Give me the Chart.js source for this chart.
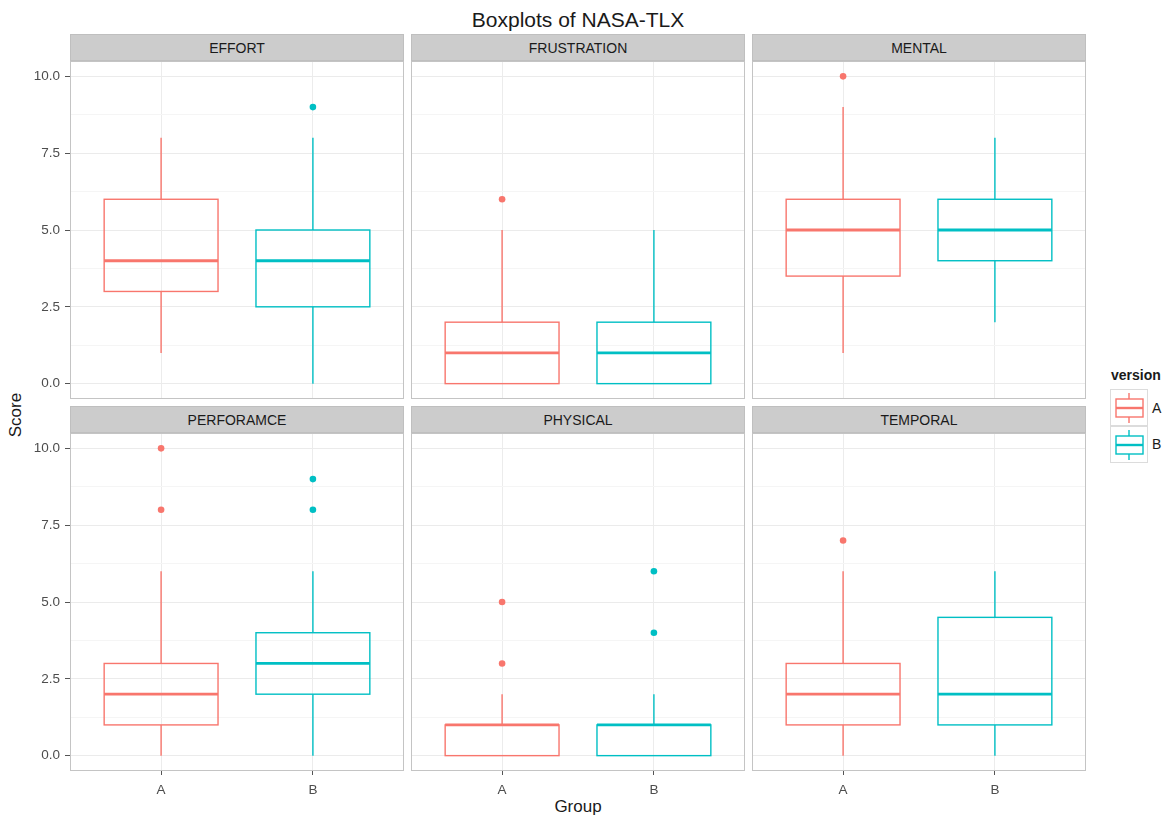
<!DOCTYPE html>
<html>
<head>
<meta charset="utf-8">
<script src="https://cdn.jsdelivr.net/npm/chart.js@4"></script>
<style>
  body { margin: 0; background: #fff; font-family: "Liberation Sans", Arial, sans-serif; }
  #wrap { position: relative; width: 1170px; height: 819px; overflow: hidden; }
  canvas { position: absolute; }
  .strip { position: absolute; background: #cccccc; color: #1a1a1a; font-size: 14px;
           text-align: center; line-height: 27px; height: 27px; border: 1px solid #bfbfbf; box-sizing: border-box; }
  .txt { position: absolute; color: #1a1a1a; white-space: nowrap; }
</style>
</head>
<body>
<div id="wrap">
  <div class="txt" style="left:0;width:1156px;top:8px;text-align:center;font-size:21px;">Boxplots of NASA-TLX</div>
  <div class="txt" style="left:-14px;top:405px;width:60px;text-align:center;font-size:17px;transform:rotate(-90deg);">Score</div>
  <div class="txt" style="left:411px;width:334px;top:797px;text-align:center;font-size:17px;">Group</div>
  <div class="txt" style="left:1111px;top:367px;font-size:14px;font-weight:bold;">version</div>
  <div class="txt" style="left:1152px;top:400px;font-size:14px;">A</div>
  <div class="txt" style="left:1152px;top:436px;font-size:14px;">B</div>
</div>
<script>
// NASA-TLX subscales (facets), in panel order
const facets = ["EFFORT", "FRUSTRATION", "MENTAL", "PERFORAMCE", "PHYSICAL", "TEMPORAL"];
const groups = ["A", "B"];
// box stats per facet: [lower whisker, Q1, median, Q3, upper whisker]
const statsA = [[1, 3, 4, 6, 8], [0, 0, 1, 2, 5], [1, 3.5, 5, 6, 9], [0, 1, 2, 3, 6], [0, 0, 1, 1, 2], [0, 1, 2, 3, 6]];
const statsB = [[0, 2.5, 4, 5, 8], [0, 0, 1, 2, 5], [2, 4, 5, 6, 8], [0, 2, 3, 4, 6], [0, 0, 1, 1, 2], [0, 1, 2, 4.5, 6]];
const outliersA = [[], [6], [10], [8, 10], [3, 5], [7]];
const outliersB = [[9], [], [], [8, 9], [4, 6], []];
const yMajor = [0, 2.5, 5, 7.5, 10];
const yMinor = [1.25, 3.75, 6.25, 8.75];

const colors = ["#F8766D", "#00BFC4"];
const panelLeft = [70, 411, 752];
const panelTop = [61, 433];
const panelW = 334, panelH = 338;

Chart.defaults.font.family = '"Liberation Sans", Arial, sans-serif';

// draws the boxes, medians and whiskers from the stats arrays through the chart scales
const boxPlugin = {
  id: "boxes",
  beforeDatasetsDraw(chart, args, opts) {
    const { ctx, scales: { x, y } } = chart;
    [statsA, statsB].forEach((stats, g) => {
      const [lo, q1, med, q3, hi] = stats[opts.facet];
      const cx = x.getPixelForValue(g + 1);
      const left = x.getPixelForValue(g + 1 - 0.375);
      const right = x.getPixelForValue(g + 1 + 0.375);
      ctx.save();
      ctx.strokeStyle = colors[g];
      ctx.lineWidth = 1.4;
      ctx.beginPath();
      ctx.moveTo(cx, y.getPixelForValue(hi));
      ctx.lineTo(cx, y.getPixelForValue(q3));
      ctx.moveTo(cx, y.getPixelForValue(q1));
      ctx.lineTo(cx, y.getPixelForValue(lo));
      ctx.stroke();
      ctx.strokeRect(left, y.getPixelForValue(q3), right - left, y.getPixelForValue(q1) - y.getPixelForValue(q3));
      ctx.lineWidth = 2.8;
      ctx.beginPath();
      ctx.moveTo(left, y.getPixelForValue(med));
      ctx.lineTo(right, y.getPixelForValue(med));
      ctx.stroke();
      ctx.restore();
    });
  },
  afterDraw(chart) {
    const { ctx, chartArea: a } = chart;
    ctx.save();
    ctx.strokeStyle = "#c4c4c4";
    ctx.lineWidth = 1;
    ctx.strokeRect(a.left + 0.5, a.top + 0.5, a.width - 1, a.height - 1);
    ctx.restore();
  }
};

const wrap = document.getElementById("wrap");

facets.forEach((name, f) => {
  const col = f % 3, row = Math.floor(f / 3);
  const isLeft = col === 0, isBottom = row === 1;
  const yw = isLeft ? 70 : 0;
  const xh = isBottom ? 40 : 0;

  const strip = document.createElement("div");
  strip.className = "strip";
  strip.style.left = panelLeft[col] + "px";
  strip.style.top = (panelTop[row] - 27) + "px";
  strip.style.width = panelW + "px";
  strip.textContent = name;
  wrap.appendChild(strip);

  const canvas = document.createElement("canvas");
  canvas.width = panelW + yw;
  canvas.height = panelH + xh;
  canvas.style.left = (panelLeft[col] - yw) + "px";
  canvas.style.top = panelTop[row] + "px";
  wrap.appendChild(canvas);

  new Chart(canvas, {
    type: "scatter",
    data: {
      datasets: [outliersA, outliersB].map((outs, g) => ({
        label: groups[g],
        data: outs[f].map(v => ({ x: g + 1, y: v })),
        backgroundColor: colors[g],
        borderWidth: 0,
        pointRadius: 3.3
      }))
    },
    options: {
      responsive: false,
      animation: false,
      devicePixelRatio: 1,
      layout: { padding: 0, autoPadding: false },
      plugins: { legend: { display: false }, tooltip: { enabled: false }, boxes: { facet: f } },
      scales: {
        x: {
          type: "linear",
          min: 0.4,
          max: 2.6,
          afterBuildTicks: s => { s.ticks = groups.map((g, i) => ({ value: i + 1 })); },
          afterFit: s => { s.height = xh; s.paddingLeft = 0; s.paddingRight = 0; },
          ticks: {
            display: isBottom,
            callback: v => groups[v - 1],
            color: "#4d4d4d",
            font: { size: 13.5 },
            padding: 7,
            maxRotation: 0,
            autoSkip: false
          },
          grid: { color: "#ececec", drawTicks: isBottom, tickLength: 4, tickColor: "#555", lineWidth: 1 },
          border: { display: false }
        },
        y: {
          type: "linear",
          min: -0.5,
          max: 10.5,
          afterBuildTicks: s => { s.ticks = yMajor.concat(yMinor).sort((a, b) => a - b).map(v => ({ value: v })); },
          afterFit: s => { s.width = yw; s.paddingTop = 0; s.paddingBottom = 0; },
          ticks: {
            display: isLeft,
            callback: v => yMajor.includes(v) ? v.toFixed(1) : "",
            color: "#4d4d4d",
            font: { size: 13.5 },
            padding: 5,
            autoSkip: false
          },
          grid: {
            color: c => yMajor.includes(c.tick && c.tick.value) ? "#ebebeb" : "#f5f5f5",
            drawTicks: isLeft,
            tickLength: 5,
            tickColor: c => yMajor.includes(c.tick && c.tick.value) ? "#555" : "rgba(0,0,0,0)",
            lineWidth: 1
          },
          border: { display: false }
        }
      }
    },
    plugins: [boxPlugin]
  });
});

// legend keys
[0, 1].forEach(g => {
  const key = document.createElement("canvas");
  key.width = 38; key.height = 37;
  key.style.left = "1110px";
  key.style.top = (389 + g * 37) + "px";
  wrap.appendChild(key);
  const c = key.getContext("2d");
  c.strokeStyle = "#dcdcdc";
  c.lineWidth = 1;
  c.strokeRect(0.5, 0.5, 37, 36);
  c.strokeStyle = colors[g];
  c.lineWidth = 1.4;
  c.beginPath();
  c.moveTo(19, 4); c.lineTo(19, 10);
  c.moveTo(19, 28); c.lineTo(19, 34);
  c.stroke();
  c.strokeRect(6, 10, 27, 18);
  c.lineWidth = 2.4;
  c.beginPath();
  c.moveTo(6, 19); c.lineTo(33, 19);
  c.stroke();
});
</script>
</body>
</html>
